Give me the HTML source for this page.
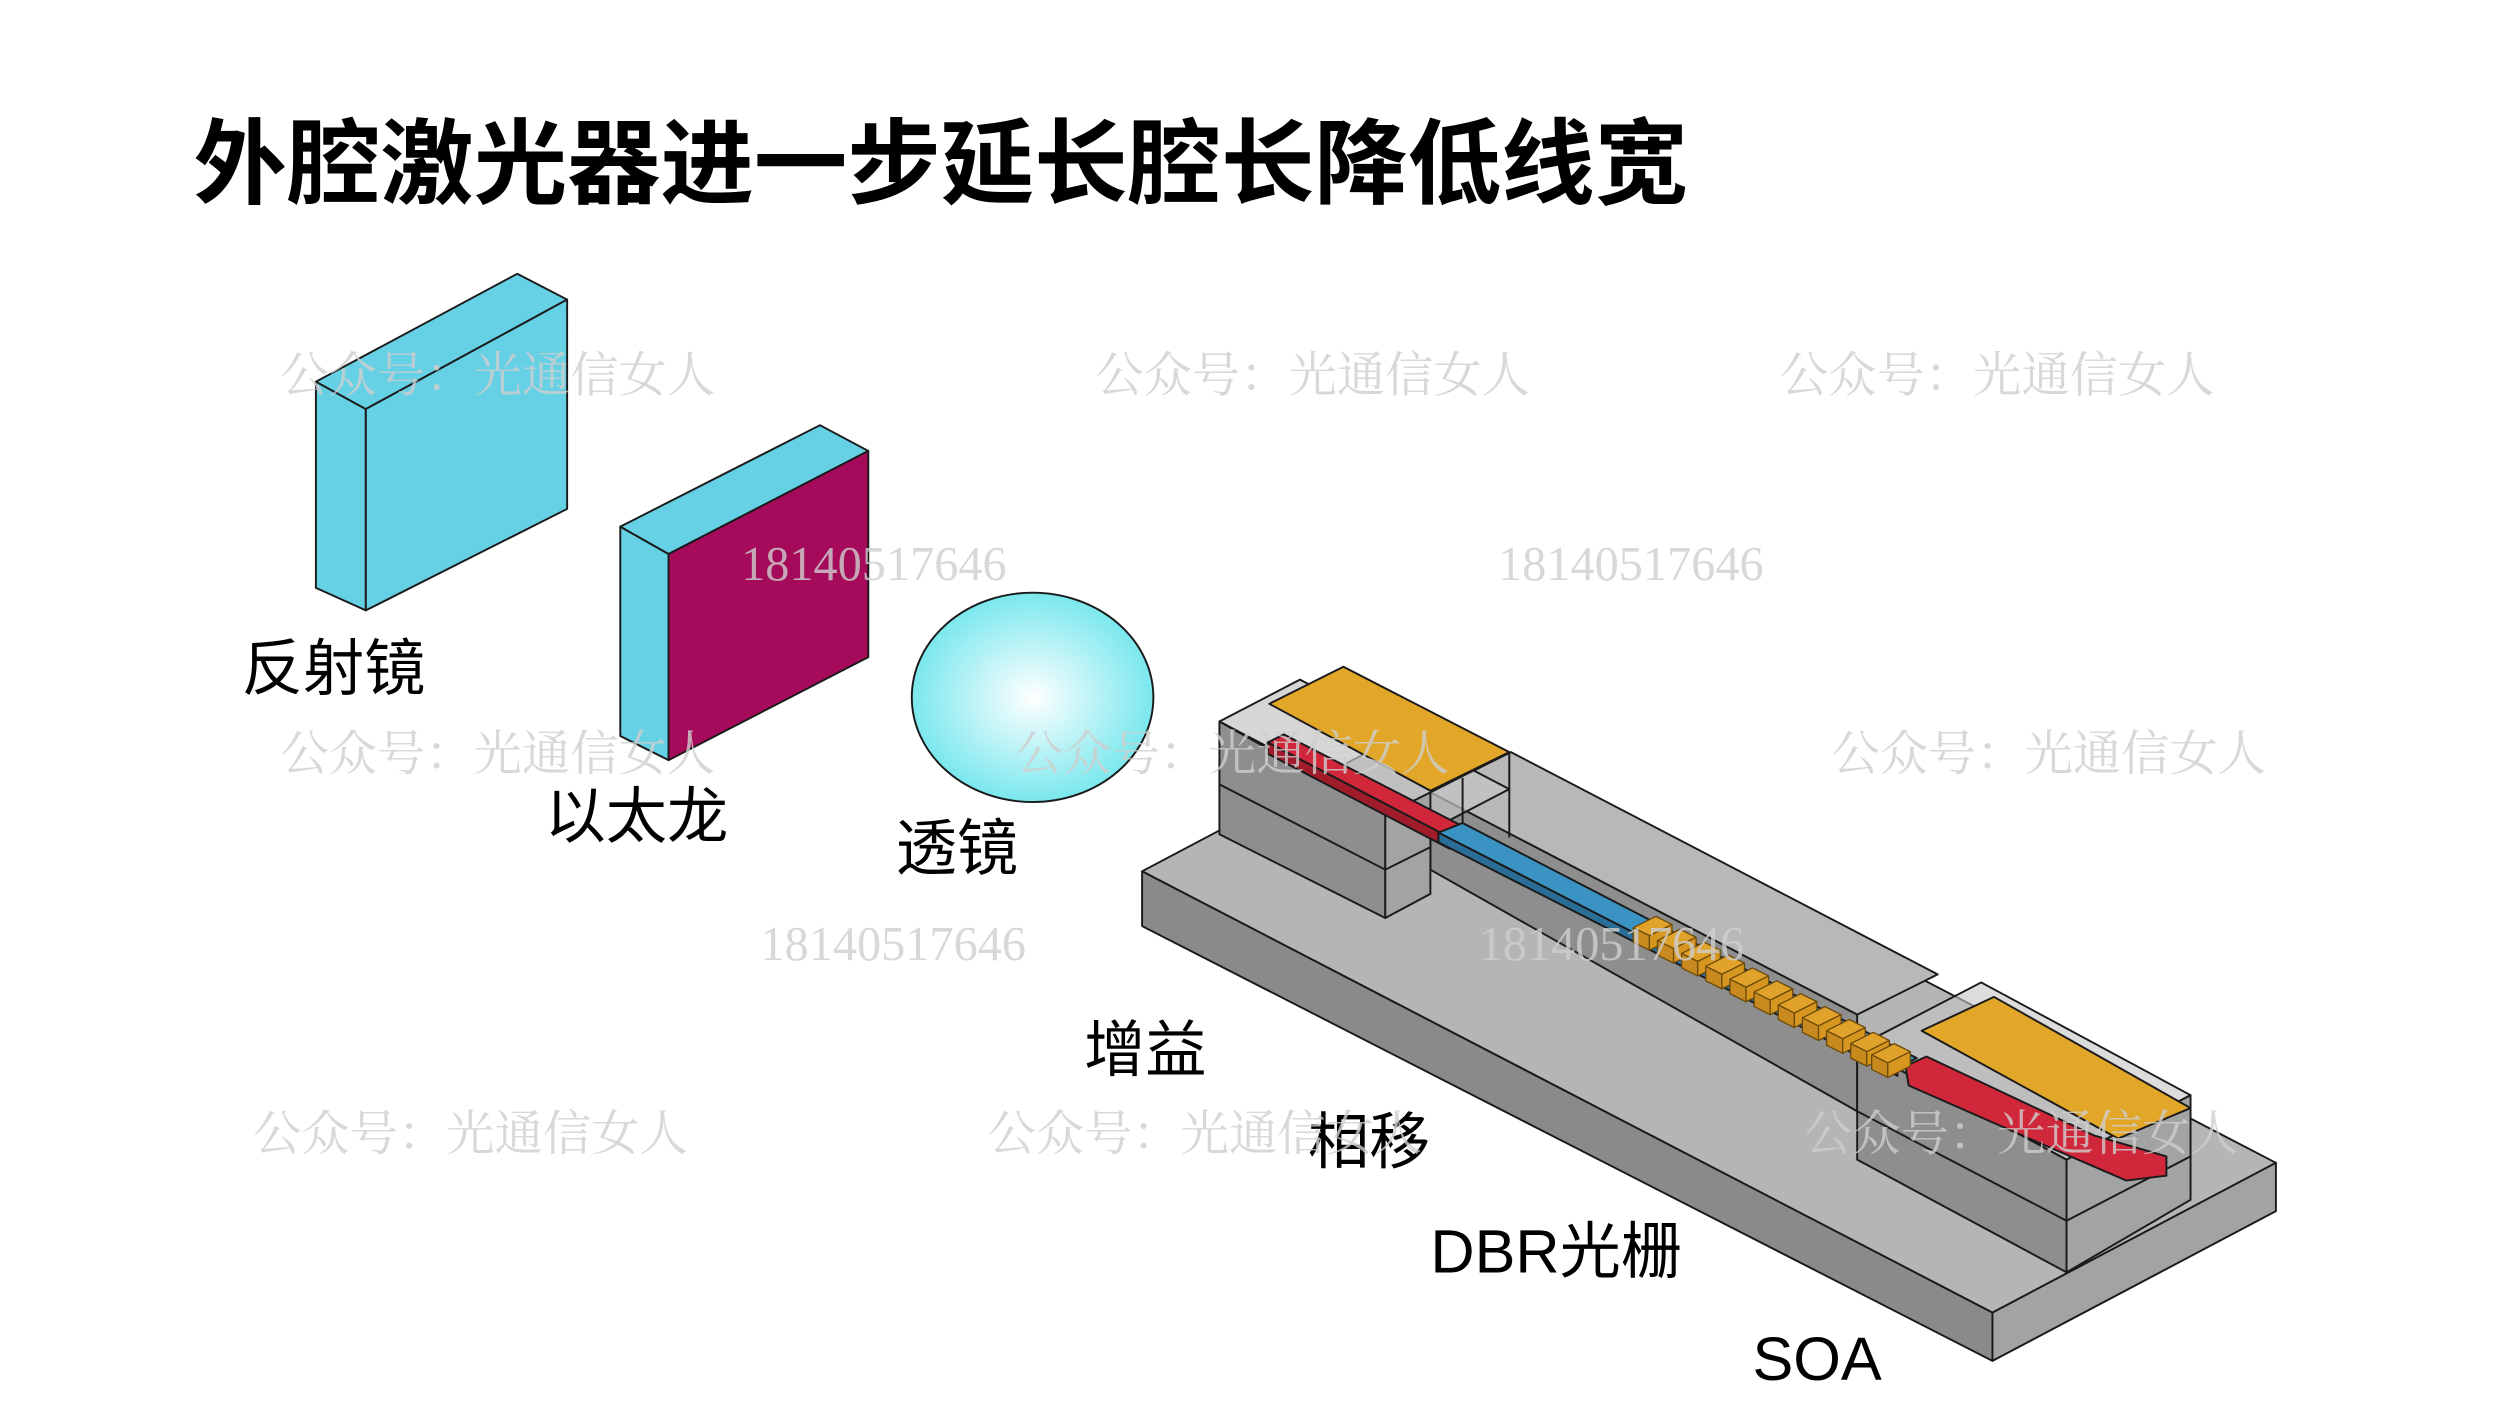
<!DOCTYPE html>
<html><head><meta charset="utf-8"><style>
html,body{margin:0;padding:0;background:#fff;}
svg{display:block;}
.cn{font-family:"Liberation Sans","Noto Sans CJK SC",sans-serif;}
.wm{font-family:"Liberation Serif","Noto Serif CJK SC",serif;fill:#cfcfcf;opacity:.8;}
</style></head><body>
<svg width="2500" height="1406" viewBox="0 0 1552 873" xmlns="http://www.w3.org/2000/svg">
<defs>
<radialGradient id="lg" cx="0.5" cy="0.5" r="0.6">
<stop offset="0" stop-color="#ffffff"/><stop offset="1" stop-color="#5fe3ea"/>
</radialGradient>
<g id="gb">
<polygon points="0,0 14,-7 24,-2 10,5" fill="#e0a22a"/>
<polygon points="0,0 10,5 10,14 0,9" fill="#c88a1e"/>
<polygon points="10,5 24,-2 24,7 10,14" fill="#d6961f"/>
</g>
</defs>
<rect width="1552" height="873" fill="#fff"/>
<text x="120" y="122" class="cn" font-size="58" font-weight="bold" fill="#000">外腔激光器进一步延长腔长降低线宽</text>

<g stroke="#1a1a1a" stroke-width="1.2" stroke-linejoin="round">
<polygon points="196,237 227,254 227,379 196,365" fill="#66d0e4"/>
<polygon points="196,237 321,170 352,186 227,254" fill="#66d0e4"/>
<polygon points="227,254 352,186 352,316 227,379" fill="#66d0e4"/>
<polygon points="385,327 415,344 415,472 385,457" fill="#66d0e4"/>
<polygon points="385,327 509,264 539,280 415,344" fill="#66d0e4"/>
<polygon points="415,344 539,280 539,408 415,472" fill="#a50b5a"/>
<ellipse cx="641" cy="433" rx="75" ry="65" fill="url(#lg)"/>

<polygon points="709,541 885,448 1413,722 1237,815" fill="#b5b5b5"/>
<polygon points="709,541 1237,815 1237,845 709,575" fill="#8a8a8a"/>
<polygon points="1237,815 1413,722 1413,752 1237,845" fill="#a3a3a3"/>

<polygon points="888,492 938,467 1203,605 1153,630" fill="#b8b8b8"/>
<polygon points="888,492 1153,630 1153,690 888,540" fill="#8e8e8e"/>

<polygon points="757,448 807,422 937,490 887,516" fill="#c4c4c4" fill-opacity="0.7"/>
<polygon points="757,448 860,506 860,570 757,518" fill="#8e8e8e"/>
<polygon points="860,506 888,492 888,555 860,570" fill="#a3a3a3"/>
<line x1="757" y1="487" x2="860" y2="540"/>
<line x1="860" y1="540" x2="888" y2="526"/>
<line x1="888" y1="492" x2="937" y2="467" />
<line x1="937" y1="467" x2="937" y2="520"/>
<line x1="908" y1="483" x2="908" y2="530"/>

<polygon points="1153,650 1283,720 1283,790 1153,720" fill="#8e8e8e"/>
<polygon points="1283,720 1360,680 1360,745 1283,790" fill="#a3a3a3"/>
<polygon points="1153,650 1230,610 1360,680 1283,720" fill="#c4c4c4" fill-opacity="0.6"/>
<line x1="1153" y1="690" x2="1283" y2="758"/>
<line x1="1283" y1="758" x2="1360" y2="718"/>

<polygon points="787,461 797,456 910,514 900,520" fill="#d0283a"/>
<polygon points="787,461 900,520 900,527 787,468" fill="#a01c2b"/>
<polygon points="893,517 908,511 1190,657 1178,663" fill="#3a93c2"/>
<polygon points="893,517 1178,663 1178,668 893,523" fill="#2a6d96"/>
<polygon points="1183,662 1196,656 1230,672 1300,705 1345,718 1345,730 1320,733 1260,707 1185,674" fill="#d0283a"/>
<g stroke="#6b4a0a" stroke-width="0.8">
<use href="#gb" x="1014" y="576"/>
<use href="#gb" x="1029" y="584"/>
<use href="#gb" x="1044" y="592"/>
<use href="#gb" x="1059" y="600"/>
<use href="#gb" x="1074" y="608"/>
<use href="#gb" x="1089" y="616"/>
<use href="#gb" x="1104" y="624"/>
<use href="#gb" x="1119" y="632"/>
<use href="#gb" x="1134" y="640"/>
<use href="#gb" x="1149" y="648"/>
<use href="#gb" x="1162" y="655"/>
</g>
<polygon points="788,437 834,414 937,467 888,491" fill="#e2a628"/>
<polygon points="1193,640 1238,619 1360,688 1315,707" fill="#e2a628"/>
</g>

<g class="cn" font-size="38" fill="#000">
<text x="150" y="428">反射镜</text>
<text x="338" y="520">以太龙</text>
<text x="556" y="540">透镜</text>
<text x="673" y="665">增益</text>
<text x="812" y="722">相移</text>
<text x="888" y="790">DBR光栅</text>
<text x="1088" y="857">SOA</text>
</g>

<g class="wm" font-size="30">
<text x="174" y="243">公众号：光通信女人</text>
<text x="680" y="243">公众号：光通信女人</text>
<text x="1105" y="243">公众号：光通信女人</text>
<text x="174" y="478">公众号：光通信女人</text>
<text x="630" y="478">公众号：光通信女人</text>
<text x="1137" y="478">公众号：光通信女人</text>
<text x="157" y="714">公众号：光通信女人</text>
<text x="613" y="714">公众号：光通信女人</text>
<text x="1120" y="714">公众号：光通信女人</text>
<text x="460" y="360">18140517646</text>
<text x="930" y="360">18140517646</text>
<text x="472" y="596">18140517646</text>
<text x="918" y="596">18140517646</text>
</g>
</svg>
</body></html>
